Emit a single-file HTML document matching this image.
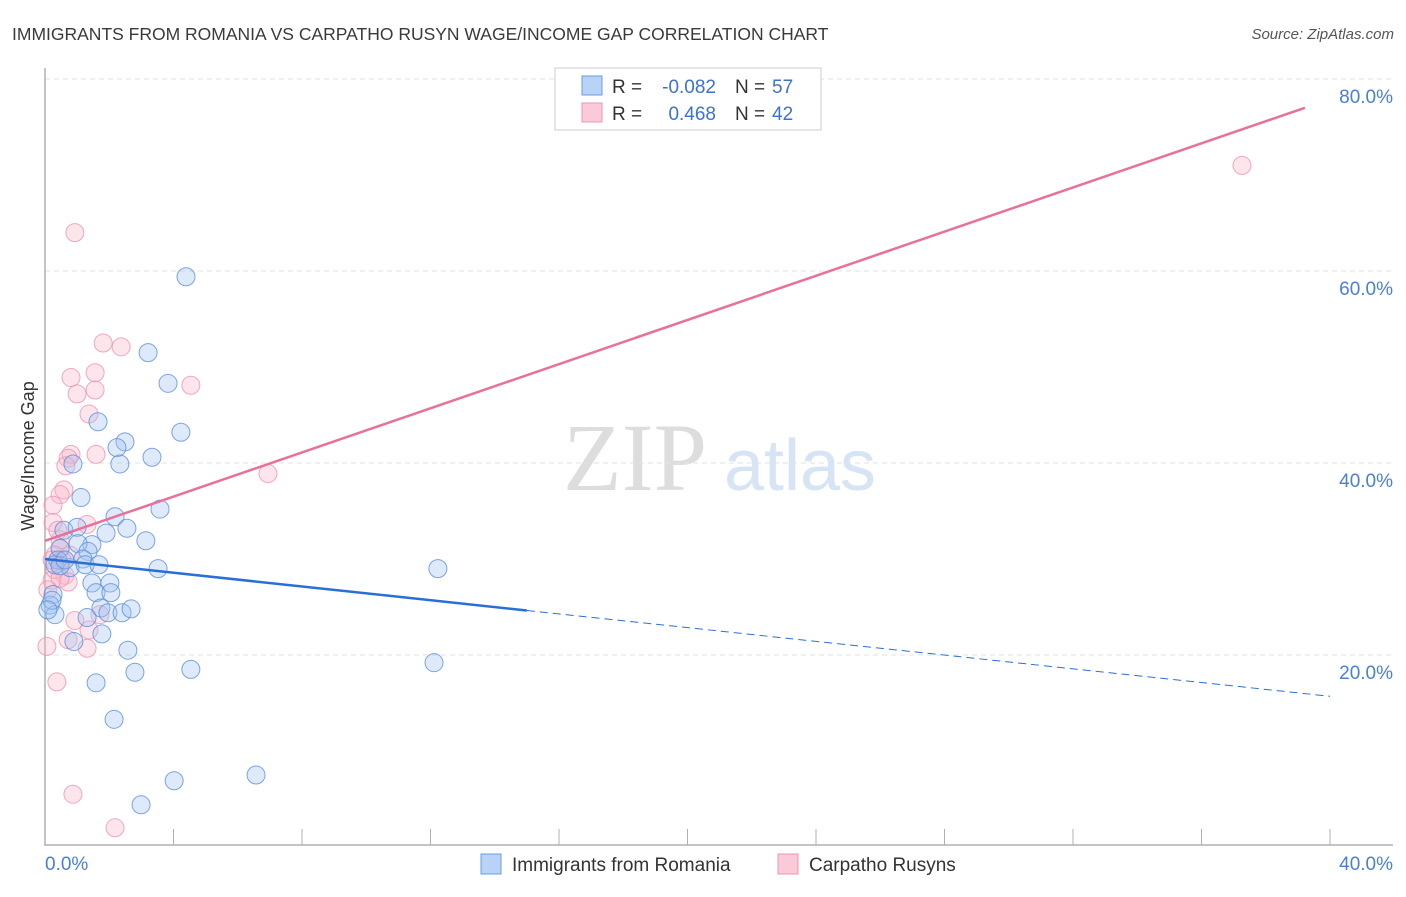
<!DOCTYPE html>
<html><head><meta charset="utf-8"><style>
body{margin:0;background:#fff;font-family:"Liberation Sans",sans-serif}
</style></head><body>
<svg id="c" width="1406" height="892" xmlns="http://www.w3.org/2000/svg" font-family="Liberation Sans, sans-serif">
<text x="12" y="40" font-size="17.5" fill="#3a3a3a">IMMIGRANTS FROM ROMANIA VS CARPATHO RUSYN WAGE/INCOME GAP CORRELATION CHART</text>
<text x="1394" y="39" font-size="15" fill="#555" font-style="italic" text-anchor="end">Source: ZipAtlas.com</text>
<g><text x="635" y="490" font-size="96" fill="#ddd" font-family="Liberation Serif, serif" text-anchor="middle">ZIP</text><text x="800" y="490" font-size="72" fill="#d6e4f5" text-anchor="middle">atlas</text></g>
<g id="grid"></g><g id="axes"></g><g id="pts"></g><g id="lines"></g>
<text transform="translate(34,456) rotate(-90)" font-size="18" fill="#333" text-anchor="middle">Wage/Income Gap</text>
<g>
<rect x="555" y="68" width="266" height="62" fill="#fff" stroke="#ccc"/>
<rect x="582" y="76" width="20" height="19" fill="#b8d3f5" stroke="#6a9de0"/>
<rect x="582" y="103" width="20" height="19" fill="#fbcad9" stroke="#ec94b0"/>
<text x="612" y="93" font-size="19" fill="#333">R =</text>
<text x="716" y="93" font-size="19" fill="#3b72d0" text-anchor="end">-0.082</text>
<text x="735" y="93" font-size="19" fill="#333">N =</text>
<text x="772" y="93" font-size="19" fill="#3b72d0">57</text>
<text x="612" y="120" font-size="19" fill="#333">R =</text>
<text x="716" y="120" font-size="19" fill="#3b72d0" text-anchor="end">0.468</text>
<text x="735" y="120" font-size="19" fill="#333">N =</text>
<text x="772" y="120" font-size="19" fill="#3b72d0">42</text>
</g>
<g>
<rect x="481" y="854" width="20" height="20" fill="#b8d3f5" stroke="#6a9de0"/>
<text x="512" y="871" font-size="19" fill="#333">Immigrants from Romania</text>
<rect x="778" y="854" width="20" height="20" fill="#fbcad9" stroke="#ec94b0"/>
<text x="809" y="871" font-size="19" fill="#333">Carpatho Rusyns</text>
</g>
</svg>
<script>
const blueX=[4.39,3.21,3.83,1.65,4.23,2.49,2.24,3.33,2.33,0.87,1.12,2.18,3.58,0.59,1.00,2.55,1.90,3.14,1.46,1.03,0.47,1.34,3.52,1.18,0.40,0.78,0.31,12.23,1.46,2.02,1.59,2.05,0.25,0.16,1.74,1.96,2.40,2.68,1.31,0.31,1.77,0.90,2.58,12.11,4.54,2.80,1.59,2.15,6.57,4.02,2.99,0.22,0.09,0.47,0.62,1.25,1.68];
const blueY=[59.4,51.5,48.3,44.3,43.2,42.2,41.6,40.6,39.9,39.9,36.4,34.4,35.2,33.0,33.3,33.2,32.7,31.9,31.5,31.6,31.1,30.8,29.0,30.0,29.9,29.1,29.4,29.0,27.5,27.5,26.5,26.5,26.3,25.2,24.9,24.4,24.4,24.8,23.9,24.2,22.2,21.4,20.5,19.2,18.5,18.2,17.1,13.3,7.5,6.9,4.4,25.7,24.7,29.3,29.9,29.4,29.4];
const pinkX=[0.93,37.26,1.81,2.37,1.56,0.81,4.54,1.00,1.56,1.37,1.59,0.81,0.72,0.65,6.94,0.59,0.47,0.25,0.25,1.31,0.47,0.47,0.31,0.62,0.22,0.72,0.93,1.37,0.72,1.71,1.31,0.06,0.37,0.87,2.18,0.31,0.47,0.09,0.22,0.53,0.78,0.40];
const pinkY=[64.0,71.0,52.5,52.1,49.4,48.9,48.1,47.2,47.6,45.1,40.9,40.9,40.5,39.7,38.9,37.2,36.7,35.6,33.8,33.6,32.0,31.1,30.4,28.3,27.8,27.6,23.6,22.6,21.6,24.2,20.7,20.9,17.2,5.5,2.0,28.9,28.0,26.8,29.9,29.9,30.4,33.0];
const yTicks=[20,40,60,80];
const yTickLabels=["20.0%","40.0%","60.0%","80.0%"];
const blueTrend=[30.0,15.7];
const blueSolidEnd=15;
const pinkTrend=[31.9,1.15];
const pinkEnd=39.22;
const NS='http://www.w3.org/2000/svg';
const sx=v=>45+v*32.125, sy=v=>847-v*9.6;
function mk(t,a,p){const e=document.createElementNS(NS,t);for(const k in a)e.setAttribute(k,a[k]);document.getElementById(p).appendChild(e);return e;}
yTicks.forEach((t,i)=>{
 const g=mk('line',{x1:45,x2:1393,y1:sy(t),y2:sy(t),stroke:'#e2e2e2','stroke-dasharray':'5,4'},'grid');
 
 
 const l=mk('text',{x:1393,y:sy(t)+24,'font-size':19,fill:'#4a7fd4','text-anchor':'end'},'axes');
 l.textContent=yTickLabels[i];
 
 
});
let a=mk('line',{x1:45,x2:45,y1:68,y2:846,stroke:'#b0b0b0','stroke-width':1.5},'axes');


a=mk('line',{x1:45,x2:1393,y1:845,y2:845,stroke:'#b0b0b0','stroke-width':1.5},'axes');


for(let i=0;i<=10;i++){const t=mk('line',{x1:sx(i*4),x2:sx(i*4),y1:829,y2:845,stroke:'#b0b0b0'},'axes');
 
 }
let xl=mk('text',{x:45,y:870,'font-size':19,fill:'#4a7fd4'},'axes');xl.textContent='0.0%';


xl=mk('text',{x:1393,y:870,'font-size':19,fill:'#4a7fd4','text-anchor':'end'},'axes');xl.textContent='40.0%';


pinkX.forEach((x,i)=>{const c=mk('circle',{cx:sx(x),cy:sy(pinkY[i]),r:9,fill:'rgba(248,180,200,0.35)',stroke:'rgba(236,148,176,0.8)','stroke-width':1},'pts');
 
 });
blueX.forEach((x,i)=>{const c=mk('circle',{cx:sx(x),cy:sy(blueY[i]),r:9,fill:'rgba(160,196,240,0.35)',stroke:'rgba(91,143,220,0.8)','stroke-width':1},'pts');
 
 });
const bAt=x=>blueTrend[0]+(blueTrend[1]-blueTrend[0])*x/40;
let L=mk('line',{x1:sx(0),y1:sy(bAt(0)),x2:sx(blueSolidEnd),y2:sy(bAt(blueSolidEnd)),stroke:'#2a6fd6','stroke-width':2.5},'lines');


L=mk('line',{x1:sx(blueSolidEnd),y1:sy(bAt(blueSolidEnd)),x2:sx(40),y2:sy(bAt(40)),stroke:'#2a6fd6','stroke-width':1,'stroke-dasharray':'8,5'},'lines');


L=mk('line',{x1:sx(0),y1:sy(pinkTrend[0]),x2:sx(pinkEnd),y2:sy(pinkTrend[0]+pinkTrend[1]*pinkEnd),stroke:'#e8709a','stroke-width':2.5},'lines');


</script>
</body></html>
